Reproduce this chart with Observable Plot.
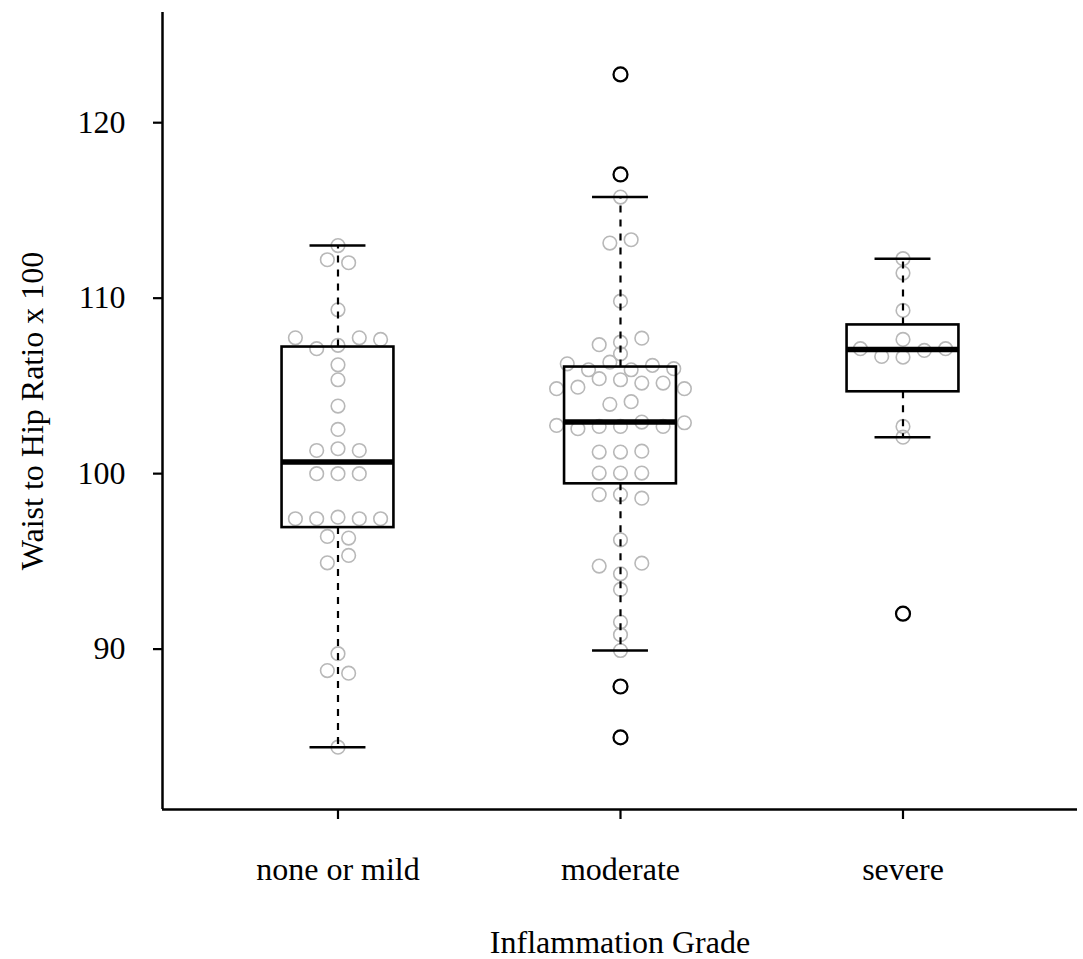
<!DOCTYPE html>
<html><head><meta charset="utf-8">
<script src="https://cdn.jsdelivr.net/npm/d3@7"></script>
<script src="https://cdn.jsdelivr.net/npm/@observablehq/plot@0.6"></script>
<style>html,body{margin:0;padding:0;background:#fff}</style>
</head><body><div id="chart"></div>
<script>
const categories = ["none or mild", "moderate", "severe"];
const noneOrMild = [113.0, 112.19, 112.02, 109.34, 107.74, 107.12, 107.31, 107.74, 107.65, 106.2, 105.35, 103.85, 102.52,
  101.32, 101.42, 101.32, 100.0, 100.0, 100.0, 97.43, 97.43, 97.52, 97.43, 97.43, 96.42, 96.33, 94.92, 95.34,
  89.74, 88.78, 88.63, 84.41];
const moderate = [122.75, 117.05, 115.76, 113.14, 113.33, 109.83, 107.35, 107.49, 107.72, 106.83,
  106.26, 105.92, 106.35, 105.92, 106.17, 105.98,
  104.84, 104.93, 105.41, 105.35, 105.16, 105.16, 104.84, 103.95, 104.1,
  102.75, 102.56, 102.69, 102.69, 102.94, 102.69, 102.9,
  101.23, 101.23, 101.28, 100.03, 100.03, 100.03, 98.81, 98.81, 98.6,
  96.23, 94.73, 94.29, 94.9, 93.4, 91.54, 90.82, 89.92, 87.87, 84.97];
const severe = [112.25, 111.43, 109.3, 107.65, 107.12, 106.68, 106.64, 107.02, 107.12, 102.69, 102.08, 92.02];
const yTicks = [90, 100, 110, 120];
const xTitle = "Inflammation Grade";
const yTitle = "Waist to Hip Ratio x 100";

const W = 1083, H = 959;
const M = {top: 12, right: 6, bottom: 150, left: 162};
const xDomain = [0.3788, 3.6177];
const yDomain = [80.86, 126.28];
const pxPerX = (W - M.left - M.right) / (xDomain[1] - xDomain[0]);
const boxHalf = 0.198, stapleHalf = 0.099;
const slotPx = 21.3, rowGap = 0.46;

function fivenum(v) {
  const s = v.slice().sort((a, b) => a - b), n = s.length;
  const n4 = Math.floor((n + 3) / 2) / 2;
  const d = [1, n4, (n + 1) / 2, n + 1 - n4, n];
  return d.map(k => 0.5 * (s[Math.floor(k) - 1] + s[Math.ceil(k) - 1]));
}

const groups = [noneOrMild, moderate, severe];
const points = [], stats = [], outliers = [];
groups.forEach((vals, gi) => {
  const pos = gi + 1;
  const idx = vals.map((v, i) => i).sort((a, b) => vals[a] - vals[b] || a - b);
  const rows = [];
  let cur = null, prev = null;
  for (const i of idx) {
    if (cur === null || vals[i] - prev > rowGap) { cur = []; rows.push(cur); }
    cur.push(i); prev = vals[i];
  }
  for (const row of rows) {
    row.sort((a, b) => a - b);
    row.forEach((i, k) => points.push({pos, x: pos + (k - (row.length - 1) / 2) * slotPx / pxPerX, y: vals[i]}));
  }
  const [, q1, med, q3] = fivenum(vals);
  const iqr = q3 - q1, lf = q1 - 1.5 * iqr, uf = q3 + 1.5 * iqr;
  const inside = vals.filter(v => v >= lf && v <= uf);
  stats.push({pos, q1, med, q3, lo: d3.min(inside), hi: d3.max(inside)});
  vals.filter(v => v < lf || v > uf).forEach(v => outliers.push({pos, y: v}));
});

const font = 32;
const chart = Plot.plot({
  width: W, height: H,
  marginTop: M.top, marginRight: M.right, marginBottom: M.bottom, marginLeft: M.left,
  style: {fontFamily: "'Liberation Serif', 'Times New Roman', serif", background: "white", color: "black", fontSize: font + "px"},
  x: {type: "linear", domain: xDomain},
  y: {type: "linear", domain: yDomain},
  marks: [
    Plot.dot(points, {x: "x", y: "y", r: 6.8, stroke: "#b8b8b8", strokeWidth: 1.6, fill: "none"}),
    Plot.ruleX(stats, {x: "pos", y1: "q3", y2: "hi", stroke: "black", strokeWidth: 2.2, strokeDasharray: "7,7"}),
    Plot.ruleX(stats, {x: "pos", y1: "q1", y2: "lo", stroke: "black", strokeWidth: 2.2, strokeDasharray: "7,7"}),
    Plot.ruleY(stats, {y: "hi", x1: d => d.pos - stapleHalf, x2: d => d.pos + stapleHalf, stroke: "black", strokeWidth: 2.5}),
    Plot.ruleY(stats, {y: "lo", x1: d => d.pos - stapleHalf, x2: d => d.pos + stapleHalf, stroke: "black", strokeWidth: 2.5}),
    Plot.rect(stats, {x1: d => d.pos - boxHalf, x2: d => d.pos + boxHalf, y1: "q1", y2: "q3", fill: "none", stroke: "black", strokeWidth: 2.6}),
    Plot.ruleY(stats, {y: "med", x1: d => d.pos - boxHalf, x2: d => d.pos + boxHalf, stroke: "black", strokeWidth: 5.5}),
    Plot.dot(outliers, {x: "pos", y: "y", r: 7, stroke: "black", strokeWidth: 2.2, fill: "none"}),
    Plot.ruleX([xDomain[0]], {stroke: "black", strokeWidth: 2.5}),
    Plot.ruleY([yDomain[0]], {stroke: "black", strokeWidth: 2.5}),
    Plot.axisY({ticks: yTicks, tickSize: 9, tickFormat: () => "", strokeWidth: 2.2, label: null}),
    Plot.text(yTicks, {y: d => d, text: d => String(d), frameAnchor: "left", dx: -37, textAnchor: "end", lineAnchor: "middle", fontSize: font, fill: "black"}),
    Plot.axisX({ticks: [1, 2, 3], tickFormat: d => categories[d - 1], tickSize: 10, tickPadding: 38, fontSize: font, strokeWidth: 2.2, label: null}),
    Plot.text([xTitle], {text: d => d, frameAnchor: "bottom", dy: 143, fontSize: font, fill: "black"}),
    Plot.text([yTitle], {text: d => d, frameAnchor: "left", dx: -130, rotate: -90, textAnchor: "middle", fontSize: font, fill: "black"})
  ]
});
document.getElementById("chart").appendChild(chart);
</script>
</body></html>
